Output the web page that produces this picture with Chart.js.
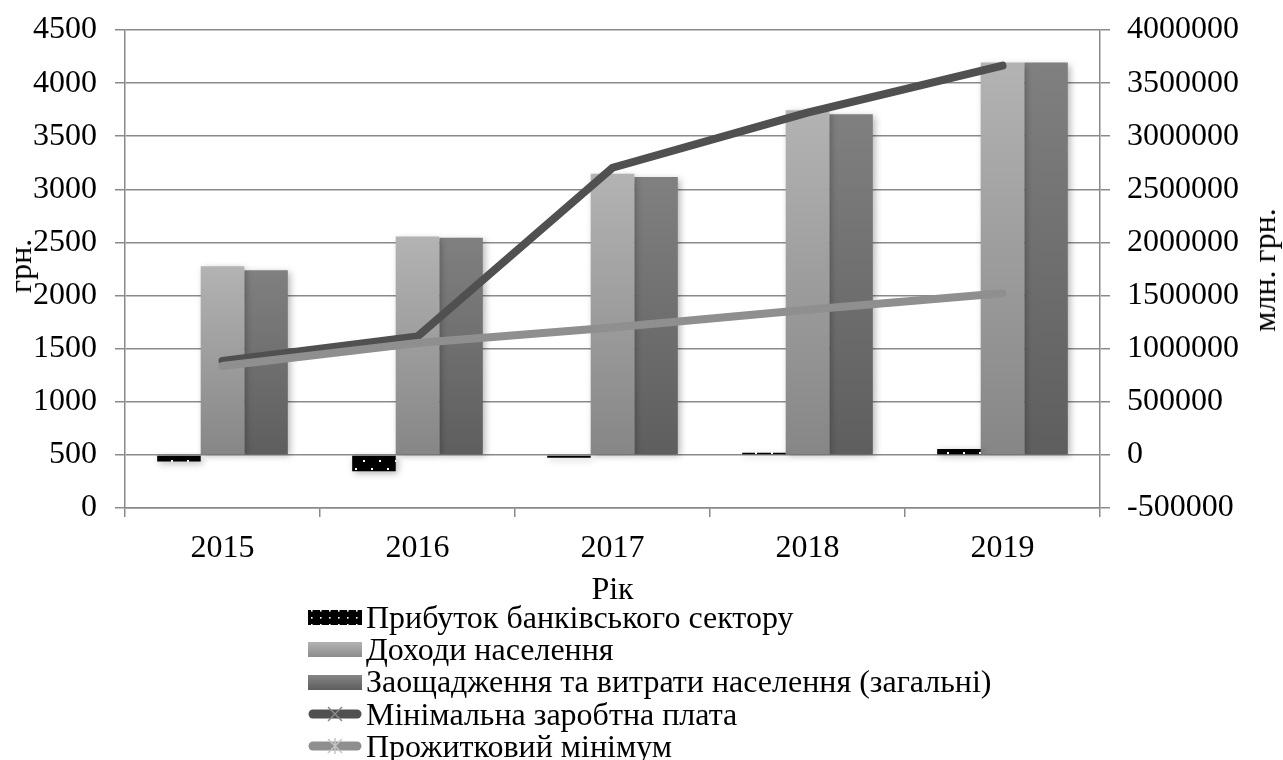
<!DOCTYPE html>
<html>
<head>
<meta charset="utf-8">
<script src="https://cdn.jsdelivr.net/npm/chart.js@4"></script>
<style>
  html, body { margin: 0; padding: 0; background: #fff; }
  body { width: 1283px; height: 760px; position: relative; overflow: hidden;
         font-family: "Liberation Serif", "Times New Roman", serif; color: #000; }
  #wrap { position: absolute; left: 0; top: 0; width: 1283px; height: 612px; }
  .ytitle { position: absolute; font-size: 32px; line-height: 1; white-space: nowrap;
            transform: translate(-50%, -50%) rotate(-90deg); }
  #legend { position: absolute; left: 308px; top: 601px; font-size: 32px; }
  .row { display: flex; align-items: center; height: 32.3px; white-space: nowrap; }
  .row svg { flex: none; margin-right: 4px; }
</style>
</head>
<body>
<div id="wrap"><canvas id="chart"></canvas></div>
<div class="ytitle" style="left:20px;top:266px">грн.</div>
<div class="ytitle" style="left:1264px;top:270px">млн. грн.</div>
<div id="legend"></div>
<script>
const years = ["2015", "2016", "2017", "2018", "2019"];
// bars, right axis (млн. грн.)
const bankProfit = [-62000, -155000, -26000, 20000, 56000];
const incomes = [1775000, 2055000, 2647000, 3244000, 3694000];
const spending = [1738000, 2045000, 2616000, 3206000, 3694000];
// lines, left axis (грн.)
const minWage = [1385, 1615, 3203, 3723, 4165];
const subsistence = [1337, 1553, 1700, 1866, 2022];

const seriesNames = [
  "Прибуток банківського сектору",
  "Доходи населення",
  "Заощадження та витрати населення (загальні)",
  "Мінімальна заробтна плата",
  "Прожитковий мінімум",
];

const font = { family: '"Liberation Serif", "Times New Roman", serif', size: 32 };
const gridColor = "#8a8a8a";

// black with white dots fill for the profit bars
const tile = document.createElement("canvas");
tile.width = 16;
tile.height = 16;
const tctx = tile.getContext("2d");
tctx.fillStyle = "#000";
tctx.fillRect(0, 0, 16, 16);
tctx.fillStyle = "#fff";
tctx.fillRect(3, 4, 2, 2);
tctx.fillRect(11, 12, 2, 2);
const dots = tctx.createPattern(tile, "repeat");

function barGradient(top, bottom) {
  return (c) => {
    const s = c.chart.scales.y1;
    if (!s || c.raw == null) return bottom;
    const yTop = s.getPixelForValue(c.raw);
    const yBase = s.getPixelForValue(0);
    if (!isFinite(yTop) || !isFinite(yBase)) return bottom;
    const g = c.chart.ctx.createLinearGradient(0, yTop, 0, yBase);
    g.addColorStop(0, top);
    g.addColorStop(1, bottom);
    return g;
  };
}

const barShadow = {
  id: "barShadow",
  beforeDatasetDraw(chart, args) {
    if (args.meta.type !== "bar") return;
    const ctx = chart.ctx;
    ctx.save();
    ctx.shadowColor = "rgba(0,0,0,0.3)";
    ctx.shadowBlur = 7;
    ctx.shadowOffsetX = 2;
    ctx.shadowOffsetY = 2;
  },
  afterDatasetDraw(chart, args) {
    if (args.meta.type !== "bar") return;
    chart.ctx.restore();
  },
};

// fixed axis sizes so the plot area sits where the original one does
function fitY(width) {
  return (s) => {
    s.width = width;
    s.paddingTop = 20;
    s.paddingBottom = 20;
  };
}

const barOpts = { yAxisID: "y1", order: 3, categoryPercentage: 0.67, barPercentage: 1, borderWidth: 0 };
const lineOpts = { type: "line", yAxisID: "y", borderWidth: 8, pointRadius: 0, tension: 0,
  borderCapStyle: "round", borderJoinStyle: "round", fill: false };

new Chart(document.getElementById("chart"), {
  type: "bar",
  data: {
    labels: years,
    datasets: [
      { ...barOpts, label: seriesNames[0], data: bankProfit, backgroundColor: dots },
      { ...barOpts, label: seriesNames[1], data: incomes, backgroundColor: barGradient("#b3b3b3", "#868686") },
      { ...barOpts, label: seriesNames[2], data: spending, backgroundColor: barGradient("#808080", "#5e5e5e") },
      { ...lineOpts, label: seriesNames[3], data: minWage, borderColor: "#505050", order: 2 },
      { ...lineOpts, label: seriesNames[4], data: subsistence, borderColor: "#8f8f8f", order: 1 },
    ],
  },
  options: {
    responsive: true,
    maintainAspectRatio: false,
    animation: false,
    layout: { padding: { top: 30, left: 0, right: 0, bottom: 0 } },
    plugins: { legend: { display: false }, tooltip: { enabled: false } },
    scales: {
      x: {
        offset: true,
        grid: { offset: true, drawOnChartArea: false, tickLength: 9, color: gridColor, lineWidth: 1.5 },
        border: { color: gridColor, width: 1.5 },
        ticks: { color: "#000", font, padding: 12 },
        title: { display: true, text: "Рік", color: "#000", font, padding: { top: 0, bottom: 2 } },
        afterFit: (s) => { s.height = 104; },
      },
      y: {
        position: "left",
        min: 0,
        max: 4500,
        ticks: { stepSize: 500, color: "#000", font, padding: 18, callback: (v) => String(v) },
        grid: { color: gridColor, lineWidth: 1.5, tickLength: 10 },
        border: { color: gridColor, width: 1.5 },
        afterFit: fitY(125),
      },
      y1: {
        position: "right",
        min: -500000,
        max: 4000000,
        ticks: { stepSize: 500000, color: "#000", font, padding: 17, callback: (v) => String(v) },
        grid: { drawOnChartArea: false, color: gridColor, lineWidth: 1.5, tickLength: 10 },
        border: { color: gridColor, width: 1.5 },
        afterFit: fitY(183),
      },
    },
  },
  plugins: [barShadow],
});

// legend below the chart, one series per row
const markers = [
  `<svg width="54" height="32"><defs><pattern id="ldots" width="9" height="7" patternUnits="userSpaceOnUse">
     <rect width="9" height="7" fill="#000"/><rect x="3" y="2" width="1.6" height="1.6" fill="#fff"/></pattern></defs>
     <rect x="0" y="9" width="54" height="15" fill="url(#ldots)"/></svg>`,
  `<svg width="54" height="32"><defs><linearGradient id="lg1" x1="0" y1="0" x2="0" y2="1">
     <stop offset="0" stop-color="#b3b3b3"/><stop offset="1" stop-color="#8c8c8c"/></linearGradient></defs>
     <rect x="0" y="9" width="54" height="15" fill="url(#lg1)"/></svg>`,
  `<svg width="54" height="32"><defs><linearGradient id="lg2" x1="0" y1="0" x2="0" y2="1">
     <stop offset="0" stop-color="#858585"/><stop offset="1" stop-color="#5e5e5e"/></linearGradient></defs>
     <rect x="0" y="9" width="54" height="15" fill="url(#lg2)"/></svg>`,
  `<svg width="54" height="32"><line x1="5" y1="16" x2="49" y2="16" stroke="#505050" stroke-width="9" stroke-linecap="round"/>
     <path d="M20 9 L34 23 M34 9 L20 23" stroke="#8a8a8a" stroke-width="1.5"/></svg>`,
  `<svg width="54" height="32"><line x1="5" y1="16" x2="49" y2="16" stroke="#8f8f8f" stroke-width="9" stroke-linecap="round"/>
     <path d="M20 9 L34 23 M34 9 L20 23 M27 8 L27 24" stroke="#c4c4c4" stroke-width="1.5"/></svg>`,
];
document.getElementById("legend").innerHTML = seriesNames
  .map((name, i) => `<div class="row">${markers[i]}<span>${name}</span></div>`)
  .join("");
</script>
</body>
</html>
